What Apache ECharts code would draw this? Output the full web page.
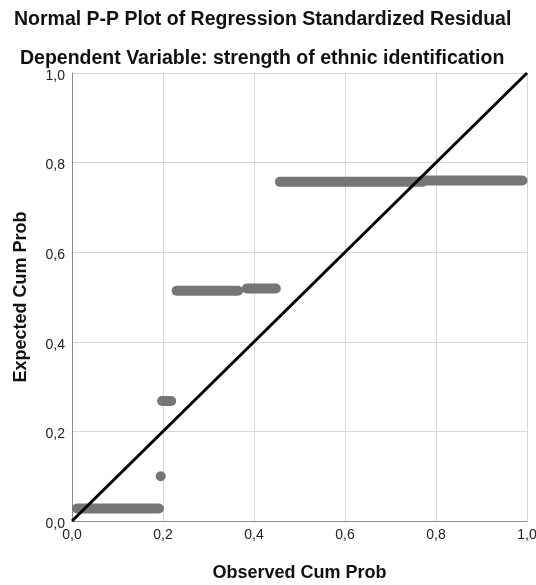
<!DOCTYPE html>
<html>
<head>
<meta charset="utf-8">
<script src="https://cdn.jsdelivr.net/npm/echarts@6/dist/echarts.min.js"></script>
<style>html,body{margin:0;padding:0;background:#fff}#c{width:536px;height:585px}</style>
</head>
<body>
<div id="c"></div>
<script>
// Clusters of residual points: each run of overlapping points, [observed start, observed end, expected]
const runStart = [0.011, 0.198, 0.230, 0.384, 0.457, 0.770];
const runEnd   = [0.191, 0.218, 0.365, 0.448, 0.770, 0.990];
const runY     = [0.028, 0.268, 0.514, 0.519, 0.757, 0.760];
// Isolated single points [observed, expected]
const singlePoints = [[0.195, 0.100]];
const diagonal = [[0, 0], [1, 1]];
const tickLabels = ['0,0', '0,2', '0,4', '0,6', '0,8', '1,0'];

const fmt = v => tickLabels[Math.round(v / 0.2)];
const series = [];
for (let i = 0; i < runY.length; i++) {
  series.push({
    type: 'line', symbol: 'none', silent: true, clip: true,
    data: [[runStart[i], runY[i]], [runEnd[i], runY[i]]],
    lineStyle: { color: '#767676', width: 10, cap: 'round' },
    z: 2
  });
}
series.push({
  type: 'scatter', silent: true, data: singlePoints, symbol: 'circle', symbolSize: 10,
  itemStyle: { color: '#767676', opacity: 1 }, z: 2
});
series.push({
  type: 'line', symbol: 'none', silent: true, data: diagonal,
  lineStyle: { color: '#000', width: 3 }, z: 3
});

const F = 'Liberation Sans';
const chart = echarts.init(document.getElementById('c'));
chart.setOption({
  animation: false,
  backgroundColor: '#fff',
  title: [
    { text: 'Normal P-P Plot of Regression Standardized Residual', left: 9, top: 5,
      textStyle: { fontFamily: F, fontWeight: 'bold', fontSize: 19.5, color: '#111' } },
    { text: 'Dependent Variable: strength of ethnic identification', left: 15, top: 44,
      textStyle: { fontFamily: F, fontWeight: 'bold', fontSize: 19.5, color: '#111' } }
  ],
  grid: { left: 72, right: 9, top: 73, bottom: 64, containLabel: false, outerBoundsMode: 'none' },
  xAxis: {
    type: 'value', min: 0, max: 1, interval: 0.2,
    name: 'Observed Cum Prob', nameLocation: 'middle', nameGap: 43,
    nameTextStyle: { fontFamily: F, fontWeight: 'bold', fontSize: 18, color: '#111' },
    axisLine: { show: true, lineStyle: { color: '#8c8c8c', width: 1 } },
    axisTick: { show: false },
    axisLabel: { formatter: fmt, margin: 7, fontFamily: F, fontSize: 14, color: '#222' },
    splitLine: { show: true, lineStyle: { color: '#d6d6d6', width: 1 } }
  },
  yAxis: {
    type: 'value', min: 0, max: 1, interval: 0.2,
    name: 'Expected Cum Prob', nameLocation: 'middle', nameGap: 42, nameRotate: 90,
    nameTextStyle: { fontFamily: F, fontWeight: 'bold', fontSize: 18, color: '#111' },
    axisLine: { show: true, lineStyle: { color: '#8c8c8c', width: 1 } },
    axisTick: { show: false },
    axisLabel: {
      formatter: v => '{a|' + fmt(v) + '}', margin: 7,
      rich: { a: { fontFamily: F, fontSize: 14, color: '#222', padding: [6, 0, 0, 0] } }
    },
    splitLine: { show: true, lineStyle: { color: '#d6d6d6', width: 1 } }
  },
  series: series
});
</script>
</body>
</html>
